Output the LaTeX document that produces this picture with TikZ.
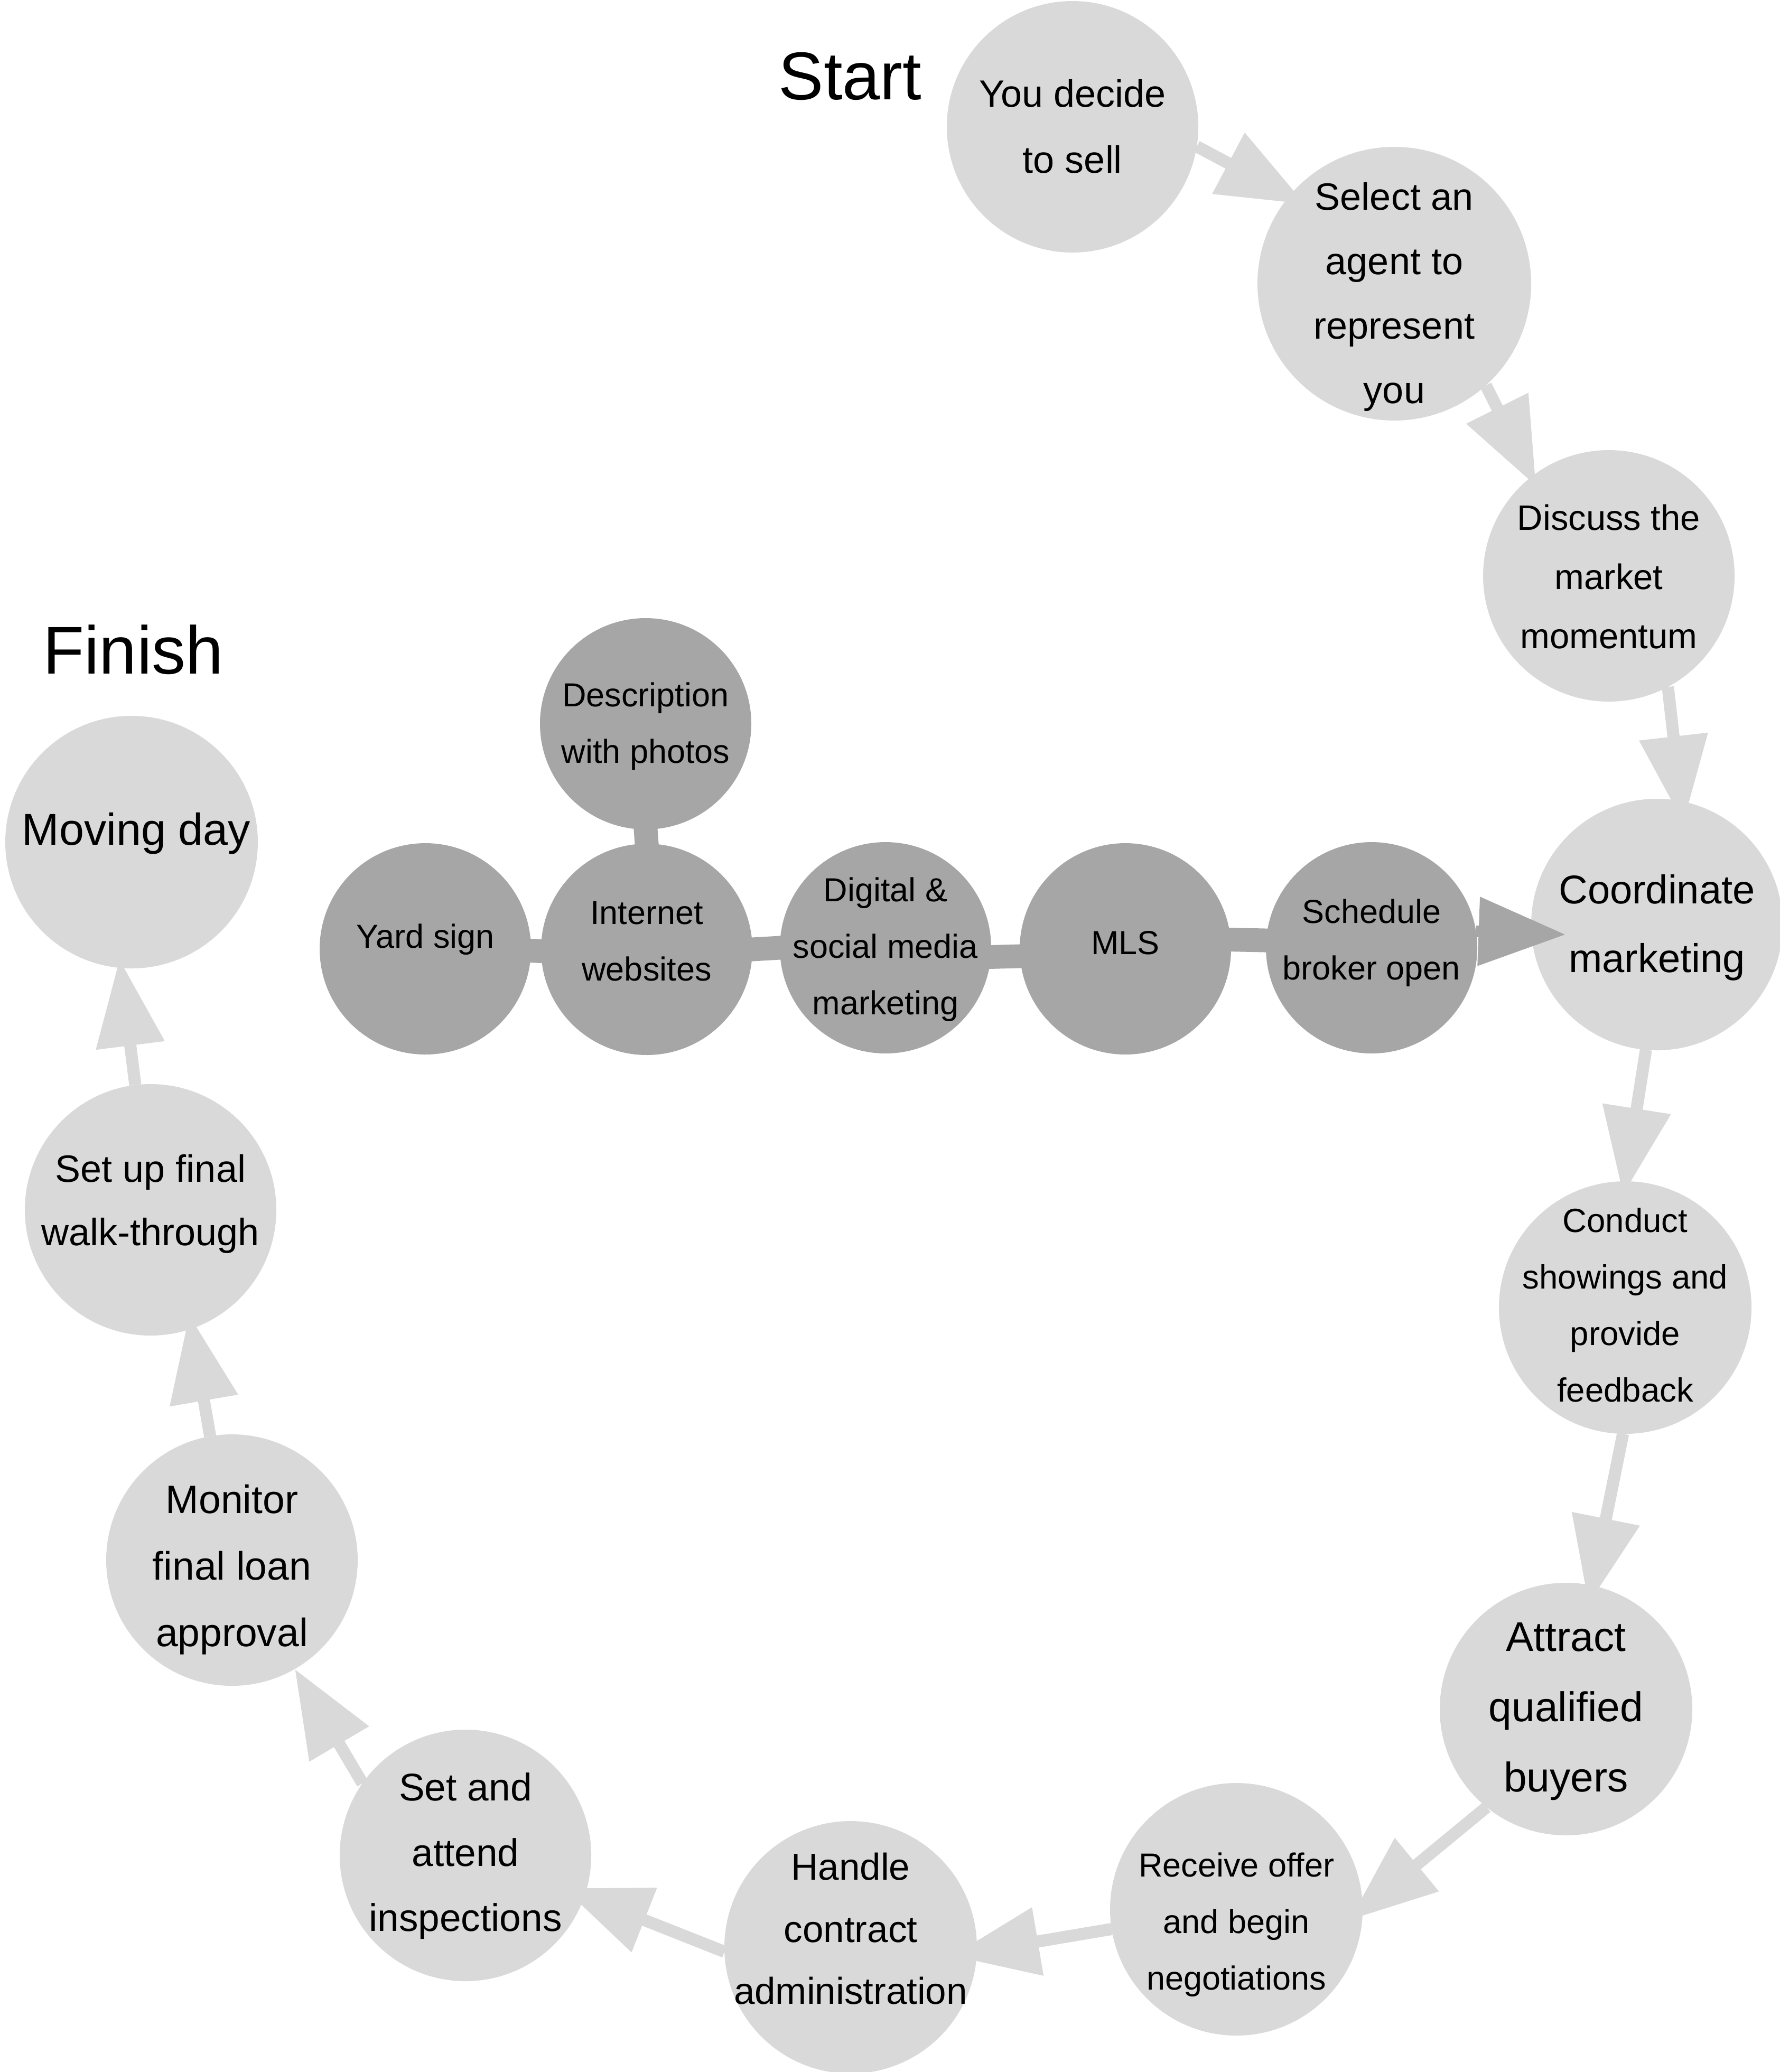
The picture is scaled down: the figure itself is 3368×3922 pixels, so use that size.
\documentclass[tikz,border=0pt]{standalone}
\usepackage{fontspec}
\setmainfont{Liberation Sans}
\usetikzlibrary{arrows.meta}
\pgfdeclarelayer{bg}
\pgfsetlayers{bg,main}
\definecolor{lgray}{HTML}{D9D9D9}
\definecolor{dgray}{HTML}{A6A6A6}
\newcommand\myfs[2]{\fontsize{#1pt}{#2pt}\selectfont}
\newcommand\myl[1]{\smash{#1}}
\begin{document}
\begin{tikzpicture}[x=1pt,y=-1pt,
  lnode/.style={circle, fill=lgray, inner sep=0pt, outer sep=0pt, minimum size=#1},
  dnode/.style={circle, fill=dgray, inner sep=0pt, outer sep=0pt, minimum size=400pt},
  lbl/.style={align=center, inner sep=0pt, outer sep=0pt, text=black},
  larrow/.style={draw=lgray, line width=23pt, -{Triangle[length=165pt,width=125pt]}},
  darrow/.style={draw=dgray, line width=22pt, -{Triangle[length=165pt,width=125pt]}},
  dline/.style={draw=dgray, line width=45pt, shorten <=-20pt, shorten >=-20pt},
  title/.style={anchor=base, inner sep=0pt, font=\myfs{128}{150}}]
\useasboundingbox (0,0) rectangle (3368,3922);

% titles
\node[title] (start) at (1609,188) {Start};
\node[title] (finish) at (252,1275) {Finish};

% light nodes
\node[lnode=476pt, label={[lbl, font=\myfs{72}{125}, yshift=-24.5pt]center:{\myl{You decide}\\\myl{to sell}}}] (n1) at (2030,240) {};
\node[lnode=518pt, label={[lbl, font=\myfs{72}{122}, yshift=-43pt]center:{\myl{Select an}\\\myl{agent to}\\\myl{represent}\\\myl{you}}}] (n2) at (2639,537) {};
\node[lnode=476pt, label={[lbl, font=\myfs{67}{112}, yshift=-25pt]center:{\myl{Discuss the}\\\myl{market}\\\myl{momentum}}}] (n3) at (3045,1090) {};
\node[lnode=476pt, label={[lbl, font=\myfs{76}{130}, yshift=-25pt]center:{\myl{Coordinate}\\\myl{marketing}}}] (n4) at (3136,1750) {};
\node[lnode=478pt, label={[lbl, font=\myfs{63.5}{107}, yshift=-18pt]center:{\myl{Conduct}\\\myl{showings and}\\\myl{provide}\\\myl{feedback}}}] (n5) at (3076,2475) {};
\node[lnode=478pt, label={[lbl, font=\myfs{78.5}{133}, yshift=-23pt]center:{\myl{Attract}\\\myl{qualified}\\\myl{buyers}}}] (n6) at (2964,3235) {};
\node[lnode=478pt, label={[lbl, font=\myfs{63}{107}, yshift=-45pt]center:{\myl{Receive offer}\\\myl{and begin}\\\myl{negotiations}}}] (n7) at (2340,3614) {};
\node[lnode=478pt, label={[lbl, font=\myfs{71}{117.5}, yshift=10pt]center:{\myl{Handle}\\\myl{contract}\\\myl{administration}}}] (n8) at (1610,3686) {};
\node[lnode=476pt, label={[lbl, font=\myfs{73}{123.5}, yshift=-20pt]center:{\myl{Set and}\\\myl{attend}\\\myl{inspections}}}] (n9) at (881,3512) {};
\node[lnode=476pt, label={[lbl, font=\myfs{75}{126}, yshift=-37pt]center:{\myl{Monitor}\\\myl{final loan}\\\myl{approval}}}] (n10) at (439,2953) {};
\node[lnode=476pt, label={[lbl, font=\myfs{72}{120}, yshift=-7pt]center:{\myl{Set up final}\\\myl{walk-through}}}] (n11) at (285,2290) {};
\node[lnode=478pt, label={[lbl, font=\myfs{84.5}{140}, yshift=-5pt, xshift=9pt]center:{\myl{Moving day}}}] (n12) at (249,1594) {};

% dark nodes
\node[dnode, label={[lbl, font=\myfs{63}{107}, yshift=2pt]center:{\myl{Yard sign}}}] (d1) at (805,1796) {};
\node[dnode, label={[lbl, font=\myfs{63}{107}, yshift=-6pt]center:{\myl{Internet}\\\myl{websites}}}] (d2) at (1224,1797) {};
\node[dnode, label={[lbl, font=\myfs{63}{107}, yshift=-21pt]center:{\myl{Description}\\\myl{with photos}}}] (d3) at (1222,1370) {};
\node[dnode, label={[lbl, font=\myfs{63}{107}, yshift=-19.5pt]center:{\myl{Digital \&}\\\myl{social media}\\\myl{marketing}}}] (d4) at (1676,1794) {};
\node[dnode, label={[lbl, font=\myfs{63}{107}, yshift=-10pt]center:{\myl{MLS}}}] (d5) at (2130,1796) {};
\node[dnode, label={[lbl, font=\myfs{63}{107}, yshift=-7pt]center:{\myl{Schedule}\\\myl{broker open}}}] (d6) at (2596,1794) {};

\begin{pgfonlayer}{bg}
  \draw[larrow, shorten >=-34pt] (n1.-9) -- (n2.140);
  \draw[larrow, shorten >=-20pt] (n2.-48) -- (n3.128);
  \draw[larrow, shorten >=-42pt] (n3.-62) -- (n4.79);
  \draw[larrow, shorten >=-26pt] (n4.-95) -- (n5.90);
  \draw[larrow, shorten >=-36pt] (n5.-91) -- (n6.78);
  \draw[larrow, shorten >=-32pt] (n6.231) -- (n7.0);
  \draw[larrow, shorten >=-48pt] (n7.189) -- (n8.-2);
  \draw[larrow, shorten >=-43pt] (n8.182) -- (n9.-19);
  \draw[larrow] (n9.145) -- (n10.-60);
  \draw[larrow, shorten >=-27pt] (n10.100) -- (n11.-71);
  \draw[larrow, shorten >=-17pt] (n11.97) -- (n12.-95);
  \draw[dline] (d1.-1) -- (d2.181);
  \draw[dline] (d2.0) -- (d4.180);
  \draw[dline] (d4.-5) -- (d5.184);
  \draw[dline] (d5.5) -- (d6.176);
  \draw[dline] (d3.-90) -- (d2.90);
\end{pgfonlayer}

\draw[darrow, shorten >=-65pt] (d6.9) -- (n4.184);
\end{tikzpicture}
\end{document}
